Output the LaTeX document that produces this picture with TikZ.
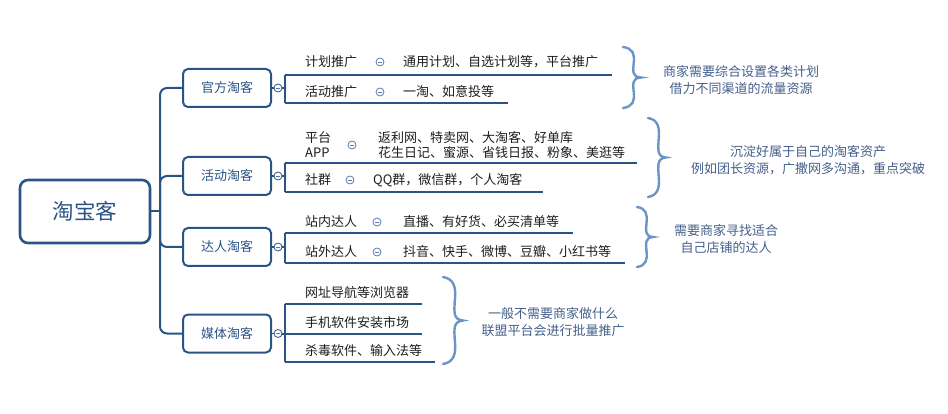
\documentclass[tikz,border=0pt]{standalone}
\usepackage{fontspec}
\setmainfont{Noto Sans CJK SC}
\definecolor{dblue}{HTML}{2B5486}
\definecolor{lblue}{HTML}{6A95C6}
\definecolor{tblue}{HTML}{445F8A}
\definecolor{ink}{HTML}{1E1E1E}
\definecolor{tog}{HTML}{5A7BA8}
\begin{document}
\begin{tikzpicture}[x=1pt,y=-1pt,
  rootbox/.style={draw=dblue,line width=2.6pt,rounded corners=8pt,minimum width=130pt,minimum height=63pt,text=dblue,font=\fontsize{21.5}{21}\selectfont},
  catbox/.style={draw=dblue,line width=2pt,rounded corners=5pt,minimum width=88pt,minimum height=38pt,text=dblue,font=\fontsize{13}{13}\selectfont},
  item/.style={anchor=west,inner sep=0pt,text=ink,font=\fontsize{13}{15}\selectfont},
  note/.style={align=center,text=tblue,inner sep=0pt,font=\fontsize{13}{17}\selectfont},
  toggle/.style={circle,draw=tog,line width=0.8pt,minimum size=8pt,inner sep=0pt,fill=white,
    path picture={\draw[tog,line width=0.7pt] ([xshift=-2pt]path picture bounding box.center) -- ([xshift=2pt]path picture bounding box.center);}},
  conn/.style={dblue,line width=2pt},
  curly/.pic={
    \draw[lblue,line width=2.4pt,line cap=round,line join=miter]
      (0,0) .. controls (0.55,0.02) and (0.65,0.12) .. (0.6,0.25)
      .. controls (0.55,0.4) and (0.5,0.49) .. (1,0.5)
      .. controls (0.5,0.51) and (0.55,0.6) .. (0.6,0.75)
      .. controls (0.65,0.88) and (0.55,0.98) .. (0,1);
  }
]
\useasboundingbox (0,0) rectangle (948,414);

% root and categories
\node[rootbox] (root) at (85,211.5) {淘宝客};
\node[catbox] (c1) at (227,88) {官方淘客};
\node[catbox] (c2) at (227,176) {活动淘客};
\node[catbox] (c3) at (227,247) {达人淘客};
\node[catbox] (c4) at (227,333.5) {媒体淘客};

\coordinate (sp) at (160,211.5);
\draw[conn] (root.east) -- (sp);
\foreach \c in {c1,c2,c3,c4}{
  \draw[conn,rounded corners=7pt] (sp) |- (\c.west);
}

% category toggles
\node[toggle,draw=dblue] (t1) at (278,88) {};
\node[toggle,draw=dblue] (t2) at (278,176) {};
\node[toggle,draw=dblue] (t3) at (278,247) {};
\node[toggle,draw=dblue] (t4) at (278,333.5) {};
\foreach \i in {1,2,3,4}{\draw[conn,line width=1.2pt] (c\i.east) -- (t\i.west);}

% bus coordinates
\coordinate (b1a) at (285,75);  \coordinate (b1b) at (285,103);
\coordinate (e1a) at (612,75);  \coordinate (e1b) at (508,103);
\coordinate (b2a) at (285,163); \coordinate (b2b) at (285,192);
\coordinate (e2a) at (637,163); \coordinate (e2b) at (543,192);
\coordinate (b3a) at (285,233); \coordinate (b3b) at (285,263);
\coordinate (e3a) at (573,233); \coordinate (e3b) at (625,263);
\coordinate (b4a) at (285,304); \coordinate (b4b) at (285,333.5); \coordinate (b4c) at (285,362);
\coordinate (e4a) at (422,304); \coordinate (e4b) at (422,333.5); \coordinate (e4c) at (435,362);

\draw[conn] (t1.east) -- (285,88);
\draw[conn] (t2.east) -- (285,176);
\draw[conn] (t3.east) -- (285,247);
\draw[conn] (t4.east) -- (b4b);
\draw[conn] (b1a) -- (b1b);
\draw[conn] (b2a) -- (b2b);
\draw[conn] (b3a) -- (b3b);
\draw[conn] (b4a) -- (b4c);
\draw[conn] (b1a) -- (e1a); \draw[conn] (b1b) -- (e1b);
\draw[conn] (b2a) -- (e2a); \draw[conn] (b2b) -- (e2b);
\draw[conn] (b3a) -- (e3a); \draw[conn] (b3b) -- (e3b);
\draw[conn] (b4a) -- (e4a); \draw[conn] (b4b) -- (e4b); \draw[conn] (b4c) -- (e4c);

% group 1
\node[item] (i11) at (305,62) {计划推广};
\node[toggle] (s11) at (380,62) {};
\node[item] (d11) at (403,62) {通用计划、自选计划等，平台推广};
\node[item] (i12) at (305,92) {活动推广};
\node[toggle] (s12) at (380,92) {};
\node[item] (d12) at (403,92) {一淘、如意投等};

% group 2
\node[item,align=left] (i21) at (305,145) {平台\\APP};
\node[toggle] (s21) at (352,145) {};
\node[item,align=left] (d21) at (378,145) {返利网、特卖网、大淘客、好单库\\花生日记、蜜源、省钱日报、粉象、美逛等};
\node[item] (i22) at (305,180) {社群};
\node[toggle] (s22) at (350,180) {};
\node[item] (d22) at (373,180) {QQ群，微信群，个人淘客};

% group 3
\node[item] (i31) at (305,222) {站内达人};
\node[toggle] (s31) at (377,222) {};
\node[item] (d31) at (403,222) {直播、有好货、必买清单等};
\node[item] (i32) at (305,252) {站外达人};
\node[toggle] (s32) at (377,252) {};
\node[item] (d32) at (403,252) {抖音、快手、微博、豆瓣、小红书等};

% group 4
\node[item] (i41) at (305,293) {网址导航等浏览器};
\node[item] (i42) at (305,323) {手机软件安装市场};
\node[item] (i43) at (305,351) {杀毒软件、输入法等};

% braces
\pic[xscale=18,yscale=61] at (623,47) {curly};
\pic[xscale=18,yscale=79] at (648,118) {curly};
\pic[xscale=16,yscale=60] at (637,207) {curly};
\pic[xscale=20,yscale=87] at (443,277) {curly};

% notes
\node[note] (n1) at (741,80.5) {商家需要综合设置各类计划\\借力不同渠道的流量资源};
\node[note] (n2) at (808,160) {沉淀好属于自己的淘客资产\\例如团长资源，广撒网多沟通，重点突破};
\node[note] (n3) at (726,239.5) {需要商家寻找适合\\自己店铺的达人};
\node[note] (n4) at (553,322.5) {一般不需要商家做什么\\联盟平台会进行批量推广};
\end{tikzpicture}
\end{document}
